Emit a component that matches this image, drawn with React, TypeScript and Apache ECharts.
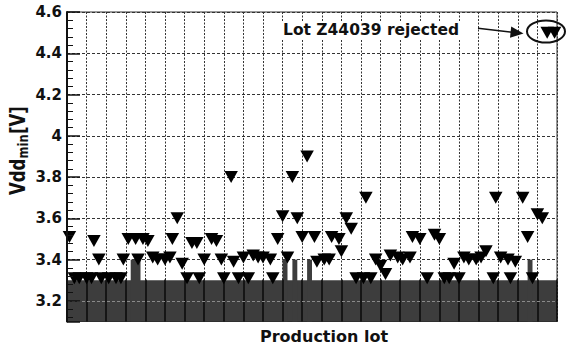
import { useEffect, useRef } from "react";
import * as echarts from "echarts";

// Lot position of each measurement and its minimum supply voltage (V)
const lotPos = [
  1.5, 2.5, 4, 5, 7, 8.5, 10, 11, 24.5, 27, 32, 35, 37, 42, 59, 60.5, 62, 73.5, 77, 78, 80, 87, 90.5, 95,
  0.5, 5.5, 6.5, 11.5, 12.5, 14, 15.5, 16.5, 14.5, 17.5, 18.5, 20, 21, 21.5, 22.5, 23.5,
  25.5, 26.5, 28, 29.5, 30.5, 31.5, 33.5, 34, 36, 38, 39, 40, 41.5,
  43, 44, 45, 46, 47, 48, 49, 50.5, 51, 52.5, 53.5, 54, 55.5,
  56, 57, 58, 61, 63, 64, 65, 66, 67.5, 68.5, 70, 70.5, 72, 75, 76, 79,
  81, 82, 83.5, 84.5, 85.5, 87.5, 88.5, 90, 91.5, 93, 94, 96, 97, 98, 99.5,
];
const vddMin = [
  3.31, 3.31, 3.31, 3.31, 3.31, 3.31, 3.31, 3.31, 3.31, 3.31, 3.31, 3.31, 3.31, 3.31, 3.31, 3.31, 3.31, 3.31, 3.31, 3.31, 3.31, 3.31, 3.31, 3.31,
  3.51, 3.49, 3.4, 3.4, 3.5, 3.5, 3.5, 3.49, 3.4, 3.41, 3.4, 3.4, 3.41, 3.5, 3.6, 3.38,
  3.48, 3.48, 3.4, 3.5, 3.49, 3.4, 3.8, 3.39, 3.41, 3.42, 3.41, 3.41, 3.4,
  3.5, 3.61, 3.41, 3.8, 3.6, 3.51, 3.9, 3.51, 3.39, 3.4, 3.4, 3.51, 3.5,
  3.44, 3.6, 3.55, 3.7, 3.4, 3.37, 3.33, 3.42, 3.41, 3.4, 3.41, 3.51, 3.5, 3.52, 3.5, 3.38,
  3.41, 3.4, 3.4, 3.41, 3.44, 3.7, 3.41, 3.4, 3.39, 3.7, 3.51, 3.62, 3.6, 4.5, 4.5,
];

// Screening floor: every lot up to floorVdd, a few lots raised to raisedVdd
const lotCount = 100;
const axisFloor = 3.1;
const floorVdd = 3.3;
const raisedVdd = 3.4;
const raisedLots = [13, 14, 44, 46, 49, 94];

const FONT = "DejaVu Sans";
const INK = "#111";
const FILL = "#3d3d3d";

// Merge neighbouring raised lots into continuous spans [start, end)
function raisedSpans(lots: number[]) {
  const sorted = [...lots].sort((a, b) => a - b);
  const spans: [number, number][] = [];
  for (const lot of sorted) {
    const last = spans[spans.length - 1];
    if (last && last[1] === lot) last[1] = lot + 1;
    else spans.push([lot, lot + 1]);
  }
  return spans;
}

export default function App() {
  const ref = useRef<HTMLDivElement>(null);

  useEffect(() => {
    const chart = echarts.init(ref.current!, null, { renderer: "svg" });

    const points = lotPos.map((x, i) => [x, vddMin[i]]);
    const floorAreas: any[] = [
      [{ xAxis: 0, yAxis: axisFloor }, { xAxis: lotCount, yAxis: floorVdd }],
      ...raisedSpans(raisedLots).map(([a, b]) => [
        { xAxis: a, yAxis: axisFloor },
        { xAxis: b, yAxis: raisedVdd },
      ]),
    ];

    const textStyle = { fontFamily: FONT, fontWeight: "bold" as const, fill: INK };

    chart.setOption({
      animation: false,
      backgroundColor: "#fff",
      grid: {
        left: 67,
        right: 17,
        top: 12,
        bottom: 24.5,
        show: true,
        borderColor: "#333",
        borderWidth: 1,
        backgroundColor: "transparent",
      },
      xAxis: [
        {
          type: "value",
          min: 0,
          max: lotCount,
          interval: 4,
          axisLine: { show: true, lineStyle: { color: "#222", width: 1 } },
          axisTick: { show: false },
          axisLabel: { show: false },
          splitLine: { show: true, lineStyle: { color: "#333", type: [2, 1.5], width: 1 } },
        },
        {
          type: "value",
          min: 0,
          max: lotCount,
          interval: 4,
          position: "bottom",
          z: 3,
          axisLine: { show: false },
          axisLabel: { show: false },
          splitLine: { show: false },
          axisTick: { show: true, inside: true, length: 42, lineStyle: { color: "#0a0a0a", width: 1.5 } },
        },
      ],
      yAxis: [
        {
          type: "value",
          min: axisFloor,
          max: 4.6,
          splitNumber: 7,
          axisLine: { show: false },
          axisTick: { show: false },
          axisLabel: {
            showMinLabel: false,
            fontFamily: FONT,
            fontWeight: "bold",
            fontSize: 15,
            color: INK,
            margin: 5,
          },
          splitLine: { show: true, lineStyle: { color: "#333", type: [3, 2], width: 1 } },
        },
        {
          type: "value",
          min: axisFloor,
          max: 4.6,
          splitNumber: 7,
          position: "left",
          z: 5,
          axisLine: { show: true, lineStyle: { color: INK, width: 2 } },
          axisTick: { show: true, inside: true, length: 13, lineStyle: { color: INK, width: 1.5 } },
          minorTick: { show: true, splitNumber: 5, length: 6, lineStyle: { color: INK, width: 1 } },
          axisLabel: { show: false },
          splitLine: { show: false },
        },
      ],
      series: [
        {
          type: "scatter",
          xAxisIndex: 0,
          yAxisIndex: 0,
          data: points,
          symbol: "triangle",
          symbolRotate: 180,
          symbolSize: [13.5, 12],
          clip: false,
          z: 4,
          itemStyle: { color: "#000", opacity: 1 },
          markArea: {
            silent: true,
            itemStyle: { color: FILL, opacity: 1 },
            data: floorAreas,
          },
          markLine: {
            silent: true,
            symbol: "none",
            label: { show: false },
            lineStyle: { color: "#8a8a8a", type: [3, 2], width: 1 },
            data: [{ yAxis: 3.2 }],
          },
        },
      ],
      graphic: [
        {
          type: "group",
          x: 17.5,
          y: 195,
          rotation: Math.PI / 2,
          scaleY: 1.3,
          children: [
            {
              type: "text",
              x: 0,
              y: 0,
              style: { ...textStyle, text: "Vdd", fontSize: 16.5, align: "left", verticalAlign: "middle" },
            },
            {
              type: "text",
              x: 36.5,
              y: 4.5,
              style: { ...textStyle, text: "min", fontSize: 11.5, align: "left", verticalAlign: "middle" },
            },
            {
              type: "text",
              x: 61,
              y: 0,
              style: { ...textStyle, text: "[V]", fontSize: 16.5, align: "left", verticalAlign: "middle" },
            },
          ],
        },
        {
          type: "text",
          x: 324,
          y: 336,
          style: { ...textStyle, text: "Production lot", fontSize: 16, align: "center", verticalAlign: "middle" },
        },
        {
          type: "rect",
          x: 280,
          y: 21,
          shape: { width: 184, height: 19 },
          style: { fill: "#fff" },
          z: 10,
        },
        {
          type: "text",
          x: 283,
          y: 30,
          z: 11,
          style: { ...textStyle, text: "Lot Z44039 rejected", fontSize: 15.5, align: "left", verticalAlign: "middle" },
        },
        {
          type: "line",
          z: 11,
          shape: { x1: 478, y1: 28.3, x2: 512, y2: 32.2 },
          style: { stroke: INK, lineWidth: 1.5 },
        },
        {
          type: "polygon",
          z: 11,
          shape: { points: [[523.5, 33.5], [510, 37.8], [511.2, 26.6]] },
          style: { fill: INK },
        },
        {
          type: "ellipse",
          z: 11,
          shape: { cx: 546, cy: 31.5, rx: 19, ry: 11 },
          style: { fill: "none", stroke: INK, lineWidth: 2 },
        },
      ],
    });

    return () => chart.dispose();
  }, []);

  return (
    <div
      ref={ref}
      style={{ position: "absolute", left: 0, top: 0, width: 574, height: 346 }}
    />
  );
}
